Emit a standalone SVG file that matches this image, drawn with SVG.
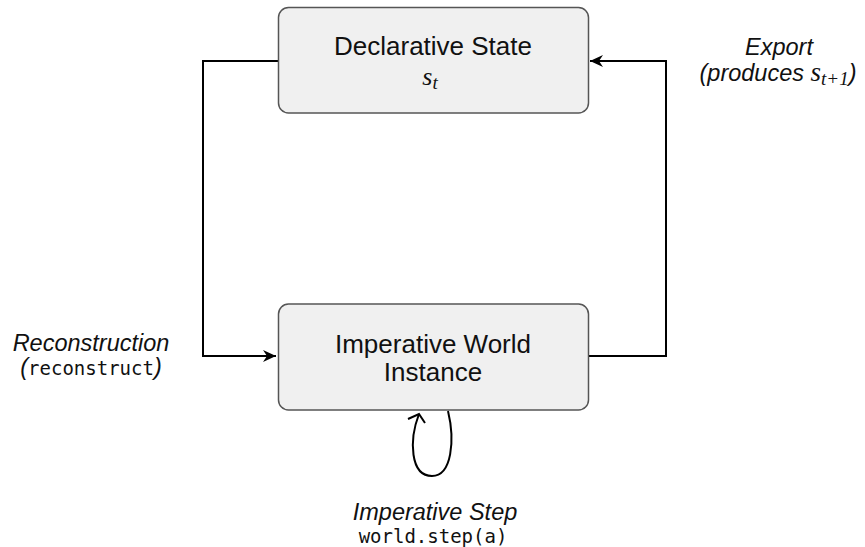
<svg xmlns="http://www.w3.org/2000/svg" width="865" height="547" viewBox="0 0 865 547">
<style>
.box{fill:#f0f0f0;stroke:#555;stroke-width:1.5}
.t{font-family:"Liberation Sans",Arial,sans-serif;font-size:26px;fill:#111;text-anchor:middle}
.lbl{font-family:"Liberation Sans",Arial,sans-serif;font-size:23.5px;font-style:italic;fill:#111;text-anchor:middle}
.mono{font-family:"DejaVu Sans Mono","Liberation Mono",monospace;font-size:19px;font-style:normal}
.math{font-family:"Liberation Serif","DejaVu Serif",serif;font-style:italic}
.edge{fill:none;stroke:#000;stroke-width:2}
</style>
<defs>
<marker id="arr" markerWidth="14" markerHeight="12" refX="13" refY="6" orient="auto" markerUnits="userSpaceOnUse">
<path d="M0,0 L13,6 L0,12 L4,6 Z" fill="#000"/>
</marker>
</defs>
<g id="edges">
<path class="edge" d="M278,61 H203 V356 H276" marker-end="url(#arr)"/>
<path class="edge" d="M588,356 H666 V61 H590" marker-end="url(#arr)"/>
<path class="edge" d="M448,411 C455,440 452,476 432,476 C410,476 409,440 419,414"/>
<path class="edge" d="M408,419 L419,414 L425,423"/>
</g>
<g id="declarative">
<rect class="box" x="278.5" y="7.5" width="310" height="105.5" rx="10"/>
<text class="t" x="433" y="55">Declarative State</text>
<text class="t math" x="430" y="85" font-size="28">s<tspan font-size="19" dy="4">t</tspan></text>
</g>
<g id="imperative">
<rect class="box" x="278.5" y="304" width="310" height="106" rx="10"/>
<text class="t" x="433" y="353">Imperative World</text>
<text class="t" x="433" y="381">Instance</text>
</g>
<g id="labels">
<text class="lbl" x="779" y="55">Export</text>
<text class="lbl" x="778" y="81">(produces <tspan class="math" font-size="27">s</tspan><tspan class="math" font-size="19" dy="4">t+1</tspan><tspan dy="-4">)</tspan></text>
<text class="lbl" x="91" y="351">Reconstruction</text>
<text class="lbl" x="91" y="375">(<tspan class="mono">reconstruct</tspan>)</text>
<text class="lbl" x="435" y="520">Imperative Step</text>
<text class="lbl mono" x="433" y="543">world.step(a)</text>
</g>
</svg>
